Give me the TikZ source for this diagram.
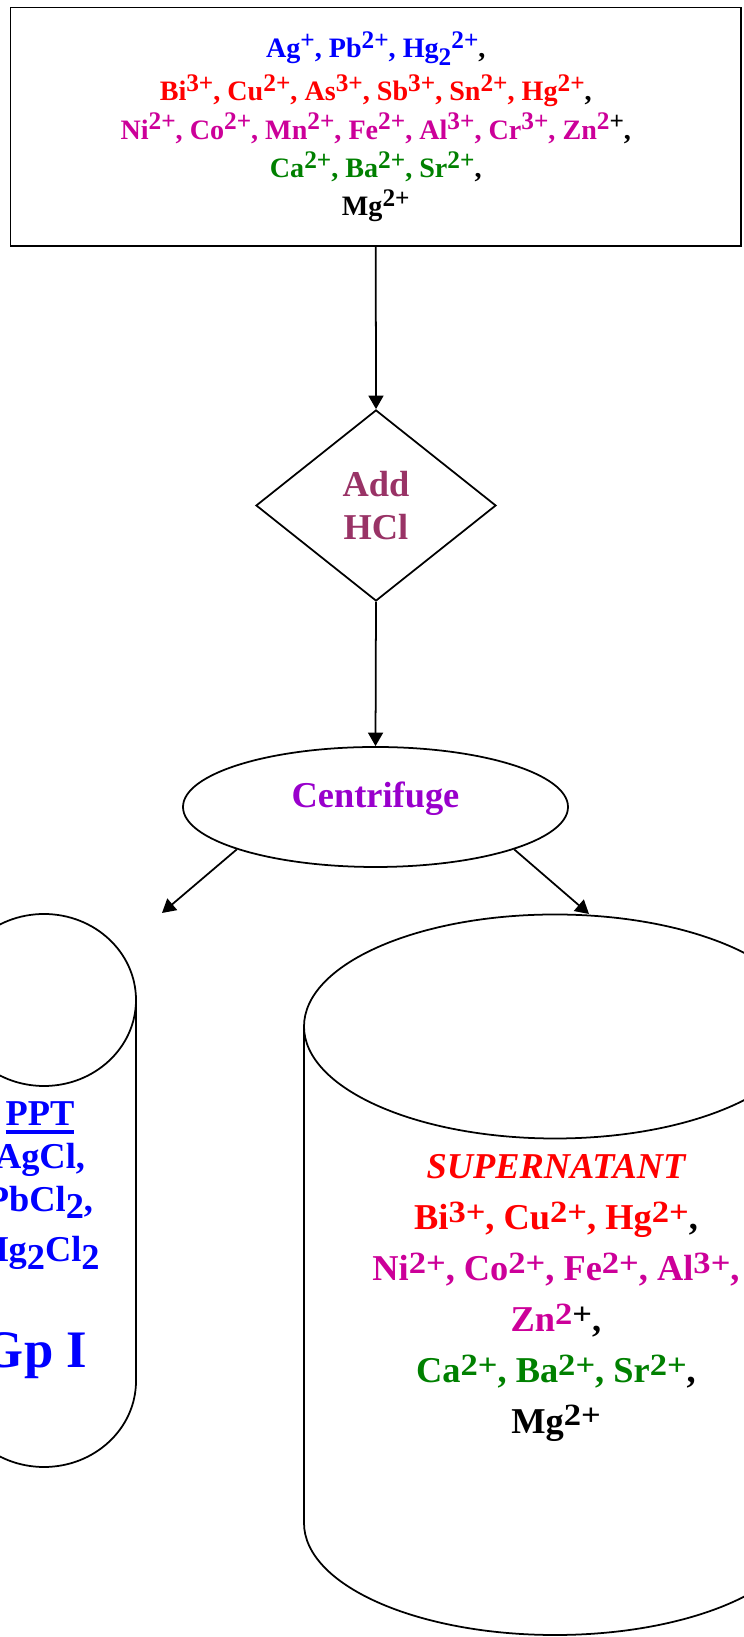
\documentclass[tikz,border=0pt]{standalone}
\usepackage{fontspec}
\setmainfont{Liberation Serif}
\usepackage{graphicx}
\usetikzlibrary{shapes.geometric,arrows.meta}

\definecolor{ionblue}{RGB}{0,0,255}
\definecolor{ionred}{RGB}{255,0,0}
\definecolor{ionpink}{RGB}{204,0,153}
\definecolor{iongreen}{RGB}{0,128,0}
\definecolor{hclplum}{RGB}{153,51,102}
\definecolor{spinviolet}{RGB}{153,0,204}

% charges and indices
\newcommand{\chgtop}[1]{\raisebox{0.33em}{\scalebox{0.9}{#1}}}
\newcommand{\subtop}[1]{\raisebox{-0.28em}{\scalebox{0.9}{#1}}}
\newcommand{\chg}[1]{\raisebox{0.2em}{\scalebox{0.95}[0.85]{#1}}}
\newcommand{\lowsub}[1]{\raisebox{-0.2em}{#1}}
\newcommand{\thickul}[1]{\setbox0=\hbox{#1}\rlap{\rule[-0.23em]{\wd0}{0.09em}}\box0}

\begin{document}
\begin{tikzpicture}[
    flow/.style={-{Triangle[length=0.27cm,width=0.3cm]}, line width=1pt},
    tube/.style={line width=1pt},
    big/.style={font={\fontsize{20.7}{24.5}\selectfont\bfseries}}]

	\useasboundingbox (0,0) rectangle (14.86,32.74);

	% sample with all cations
	\node[draw, line width=1pt, minimum width=14.61cm, minimum height=4.77cm, inner sep=0pt, align=center,
	      font={\fontsize{16}{21.8}\selectfont\bfseries}] (mix) at (7.515,30.205)
	  {{\color{ionblue}Ag\chgtop{+}, Pb\chgtop{2+}, Hg\subtop{2}\chgtop{2+}},\\[0.1cm]%
	   {\color{ionred}Bi\chgtop{3+}, Cu\chgtop{2+}, As\chgtop{3+}, Sb\chgtop{3+}, Sn\chgtop{2+}, Hg\chgtop{2+}},\\
	   {\color{ionpink}Ni\chgtop{2+}, Co\chgtop{2+}, Mn\chgtop{2+}, Fe\chgtop{2+}, Al\chgtop{3+}, Cr\chgtop{3+}, Zn\chgtop{2\textcolor{black}{+}}},\\
	   {\color{iongreen}Ca\chgtop{2+}, Ba\chgtop{2+}, Sr\chgtop{2+}},\\
	   Mg\chgtop{2+}};

	\node[draw, diamond, line width=1pt, minimum width=4.8cm, minimum height=3.82cm, inner sep=0pt,
	      align=center, text=hclplum, big] (hcl) at (7.52,22.63) {Add\\HCl};
	\node[draw, ellipse, line width=1pt, minimum width=7.7cm, minimum height=2.4cm, inner sep=0pt,
	      text=spinviolet, big, text height=0.5cm, text depth=0.46cm] (spin) at (7.51,16.6) {Centrifuge};

	\coordinate (pptin) at (3.24,14.48);
	\coordinate (supin) at (11.78,14.46);

	\draw[flow] (mix.south) -- (hcl.north);
	\draw[flow] (hcl.south) -- (spin.north);
	\draw[flow] (spin.197) -- (pptin);
	\draw[flow] (spin.-17) -- (supin);

	% precipitate tube
	\draw[tube] (0.88,12.74) ellipse [x radius=1.84, y radius=1.72];
	\draw[tube] (2.72,12.74) -- (2.72,5.12) arc[start angle=0, end angle=-180, x radius=1.84, y radius=1.72] -- (-0.96,12.74);
	\node[align=center, text=ionblue, inner sep=0pt, anchor=north, big] (ppt) at (0.8,10.72)
	  {\thickul{PPT}\\AgCl,\\PbCl\lowsub{2},\\[0.15cm]Hg\lowsub{2}Cl\lowsub{2}};
	\node[text=ionblue, inner sep=0pt, anchor=base, font={\fontsize{30}{36}\selectfont\bfseries}] (grp) at (0.7,5.38) {Gp I};

	% supernatant tube
	\draw[tube] (11.1,12.21) ellipse [x radius=5.02, y radius=2.24];
	\draw[tube] (6.08,12.21) -- (6.08,2.28) arc[start angle=180, end angle=360, x radius=5.02, y radius=2.24] -- (16.12,12.21);
	\node[align=center, inner sep=0pt, anchor=north, font={\fontsize{20.7}{29}\selectfont\bfseries}] (sup) at (11.12,9.66)
	  {{\color{ionred}\itshape SUPERNATANT}\\
	   {\color{ionred}Bi\chg{3+}, Cu\chg{2+}, Hg\chg{2+}},\\
	   {\color{ionpink}Ni\chg{2+}, Co\chg{2+}, Fe\chg{2+}, Al\chg{3+},}\\
	   {\color{ionpink}Zn\chg{2\textcolor{black}{+}}},\\
	   {\color{iongreen}Ca\chg{2+}, Ba\chg{2+}, Sr\chg{2+}},\\
	   Mg\chg{2+}};

\end{tikzpicture}
\end{document}
